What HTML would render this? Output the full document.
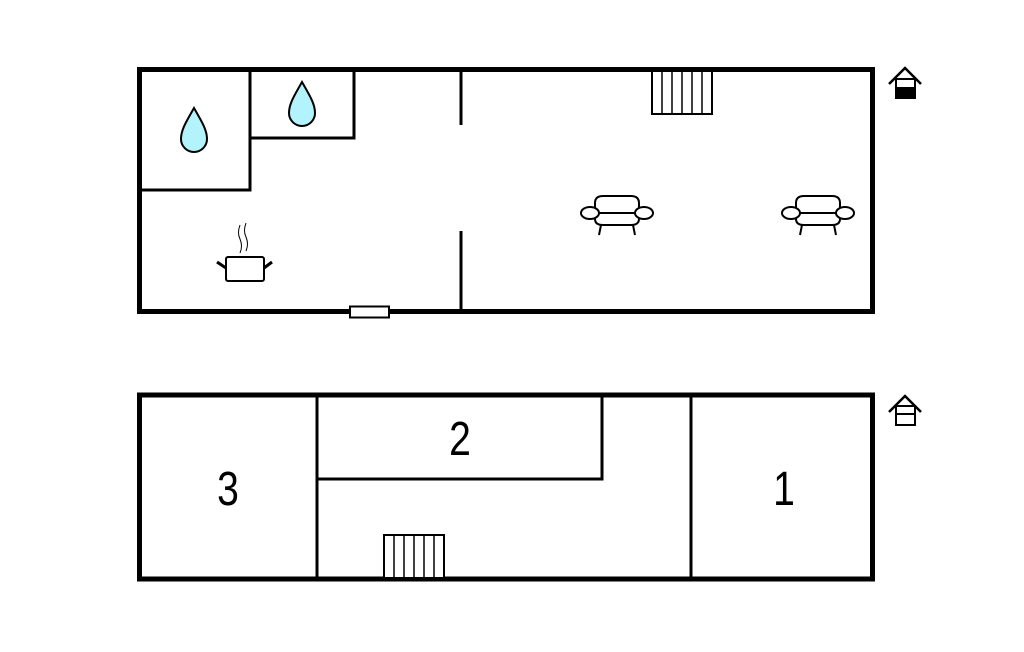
<!DOCTYPE html>
<html><head><meta charset="utf-8"><style>html,body{margin:0;padding:0;background:#fff}svg{display:block}</style></head>
<body>
<svg width="1024" height="652" viewBox="0 0 1024 652" xmlns="http://www.w3.org/2000/svg">
<g fill="none" stroke="#000">
<rect x="139.5" y="69.5" width="733" height="242" stroke-width="5"/>
<polyline points="140,190 250,190 250,70" stroke-width="3"/>
<polyline points="250,138 354,138 354,70" stroke-width="3"/>
<line x1="461" y1="70" x2="461" y2="125" stroke-width="3"/>
<line x1="461" y1="231" x2="461" y2="311" stroke-width="3"/>
<rect x="350" y="306.5" width="39" height="11" fill="#fff" stroke-width="2"/>
<rect x="652" y="71" width="60" height="43" fill="#fff" stroke-width="2"/>
<g stroke-width="1.5"><line x1="662" y1="71" x2="662" y2="114"/><line x1="672" y1="71" x2="672" y2="114"/><line x1="682" y1="71" x2="682" y2="114"/><line x1="692" y1="71" x2="692" y2="114"/><line x1="702" y1="71" x2="702" y2="114"/></g>
<path d="M194,108 C186,122 181,130 181,139 A13,13 0 0 0 207,139 C207,130 202,122 194,108 Z" fill="#b3f3fb" stroke-width="2"/>
<path d="M302,82 C294,96 289,104 289,113 A13,13 0 0 0 315,113 C315,104 310,96 302,82 Z" fill="#b3f3fb" stroke-width="2"/>
<rect x="226" y="257" width="38" height="24" rx="2" stroke-width="2"/>
<line x1="217" y1="262" x2="226" y2="268" stroke-width="3"/>
<line x1="272" y1="262" x2="264" y2="268" stroke-width="3"/>
<path d="M240,225 q-3,8 0,14 q3,7 0,14" stroke-width="1"/>
<path d="M246,223 q-3,8 0,14 q3,7 0,14" stroke-width="1"/>
<g transform="translate(617,213)" stroke-width="2" fill="#fff">
<path d="M-22,-3 v-7 q0,-7 8,-7 h28 q8,0 8,7 v7" />
<path d="M-22,3 v3 q0,6 8,6 h28 q8,0 8,-6 v-3"/>
<line x1="-22" y1="0" x2="22" y2="0"/>
<ellipse cx="-27" cy="0" rx="9" ry="6"/><ellipse cx="27" cy="0" rx="9" ry="6"/>
<line x1="-16" y1="12" x2="-18" y2="22"/><line x1="16" y1="12" x2="18" y2="22"/>
</g>
<g transform="translate(818,213)" stroke-width="2" fill="#fff">
<path d="M-22,-3 v-7 q0,-7 8,-7 h28 q8,0 8,7 v7" />
<path d="M-22,3 v3 q0,6 8,6 h28 q8,0 8,-6 v-3"/>
<line x1="-22" y1="0" x2="22" y2="0"/>
<ellipse cx="-27" cy="0" rx="9" ry="6"/><ellipse cx="27" cy="0" rx="9" ry="6"/>
<line x1="-16" y1="12" x2="-18" y2="22"/><line x1="16" y1="12" x2="18" y2="22"/>
</g>
<polyline points="889,84 905,68 921,84" stroke-width="2.5"/>
<rect x="896" y="79" width="19" height="19" stroke-width="2"/>
<rect x="896" y="88" width="19" height="10" fill="#000" stroke-width="2"/>
<polyline points="889,412 905,396 921,412" stroke-width="2.5"/>
<rect x="896" y="406" width="19" height="19" stroke-width="2"/>
<line x1="896" y1="414" x2="915" y2="414" stroke-width="2"/>
<rect x="139.5" y="395" width="733" height="184" stroke-width="5"/>
<line x1="317" y1="395" x2="317" y2="579" stroke-width="3"/>
<line x1="691" y1="395" x2="691" y2="579" stroke-width="3"/>
<polyline points="317,479 602,479 602,395" stroke-width="3"/>
<rect x="384" y="535" width="60" height="43" fill="#fff" stroke-width="2"/>
<g stroke-width="1.5"><line x1="394" y1="535" x2="394" y2="578"/><line x1="404" y1="535" x2="404" y2="578"/><line x1="414" y1="535" x2="414" y2="578"/><line x1="424" y1="535" x2="424" y2="578"/><line x1="434" y1="535" x2="434" y2="578"/></g>
</g>
<g font-family="Liberation Sans, sans-serif" font-size="46" text-anchor="middle" fill="#000">
<text x="460" y="455" transform="translate(460,455) scale(0.85,1.05) translate(-460,-455)">2</text>
<text x="228" y="505" transform="translate(228,505) scale(0.85,1.05) translate(-228,-505)">3</text>
<text x="784" y="505" transform="translate(784,505) scale(0.85,1.05) translate(-784,-505)">1</text>
</g>
</svg>
</body></html>
